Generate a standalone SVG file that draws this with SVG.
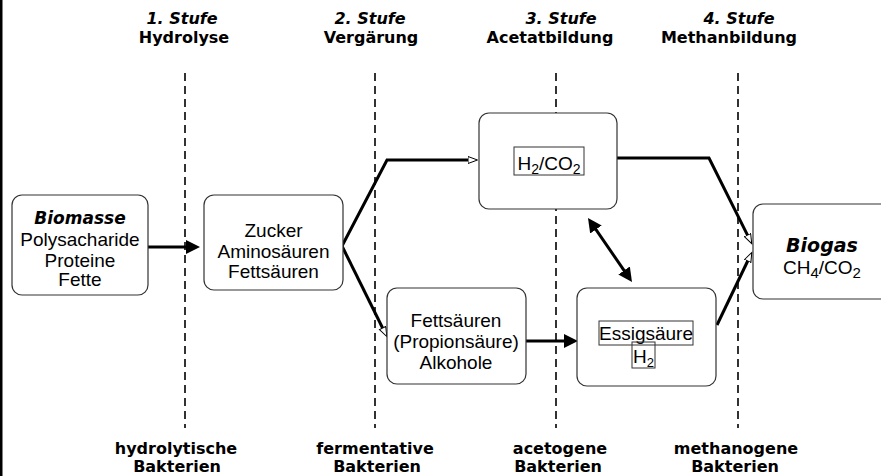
<svg xmlns="http://www.w3.org/2000/svg" width="881" height="476" viewBox="0 0 881 476">
<style>
.hdr{font-family:"DejaVu Sans",Verdana,sans-serif;font-weight:bold;font-size:16px;fill:#000;text-anchor:middle}
.it{font-style:italic}
.txt{font-family:"Liberation Sans",Arial,sans-serif;font-size:19px;fill:#000;text-anchor:middle}
.bi{font-family:"DejaVu Sans",Verdana,sans-serif;font-weight:bold;font-style:italic;fill:#000;text-anchor:middle}
.box{fill:#fff;stroke:#333;stroke-width:1.2}
.lbl{fill:none;stroke:#333;stroke-width:1}
.dash{stroke:#000;stroke-width:1.6;stroke-dasharray:8 5;fill:none}
.con{fill:none;stroke:#000;stroke-width:3}
</style>
<defs>
<marker id="fa" markerUnits="userSpaceOnUse" markerWidth="16" markerHeight="16" refX="2" refY="7" orient="auto-start-reverse">
<path d="M0,0 L14,7 L0,14 z" fill="#000"/>
</marker>
<marker id="oa" markerUnits="userSpaceOnUse" markerWidth="12" markerHeight="10" refX="0.5" refY="4" orient="auto">
<path d="M0.5,0.5 L10,4 L0.5,7.5 z" fill="#fff" stroke="#000" stroke-width="1"/>
</marker>
</defs>
<rect x="0" y="0" width="881" height="476" fill="#fff"/>
<rect x="0" y="0" width="2.5" height="476" fill="#000"/>

<g id="stages">
<line class="dash" x1="185" y1="73" x2="185" y2="428"/>
<line class="dash" x1="375" y1="73" x2="375" y2="428"/>
<line class="dash" x1="556" y1="73" x2="556" y2="428"/>
<line class="dash" x1="738" y1="73" x2="738" y2="428"/>
</g>

<g id="headers">
<text class="hdr it" x="182" y="24">1. Stufe</text>
<text class="hdr" x="184" y="43">Hydrolyse</text>
<text class="hdr it" x="370" y="24">2. Stufe</text>
<text class="hdr" x="371" y="43">Vergärung</text>
<text class="hdr it" x="561" y="24">3. Stufe</text>
<text class="hdr" x="550" y="43">Acetatbildung</text>
<text class="hdr it" x="739" y="24">4. Stufe</text>
<text class="hdr" x="729" y="43">Methanbildung</text>
</g>

<g id="footers">
<text class="hdr" x="176" y="454">hydrolytische</text>
<text class="hdr" x="177" y="472">Bakterien</text>
<text class="hdr" x="375" y="454">fermentative</text>
<text class="hdr" x="377" y="472">Bakterien</text>
<text class="hdr" x="560" y="454">acetogene</text>
<text class="hdr" x="558" y="472">Bakterien</text>
<text class="hdr" x="736" y="454">methanogene</text>
<text class="hdr" x="735" y="472">Bakterien</text>
</g>

<g id="connectors">
<path class="con" d="M148,247 H188" marker-end="url(#fa)"/>
<path class="con" d="M526,341 H566" marker-end="url(#fa)"/>
<path class="con" d="M594.8,227.9 L625.2,272.1" marker-start="url(#fa)" marker-end="url(#fa)"/>
<path class="con" d="M342,246 L387,160 H468" marker-end="url(#oa)"/>
<path class="con" d="M342,246 L382.6,328" marker-end="url(#oa)"/>
<path class="con" d="M617,158 H709 L747.5,235.1" marker-end="url(#oa)"/>
<path class="con" d="M717,325 L747.7,261" marker-end="url(#oa)"/>
</g>

<g id="biomasse">
<rect class="box" x="12" y="195" width="136" height="100" rx="10"/>
<text class="bi" x="80" y="224" font-size="17">Biomasse</text>
<text class="txt" x="80" y="246">Polysacharide</text>
<text class="txt" x="80" y="267">Proteine</text>
<text class="txt" x="80" y="286">Fette</text>
</g>

<g id="zucker">
<rect class="box" x="204" y="195" width="139" height="95" rx="10"/>
<text class="txt" x="273.5" y="237">Zucker</text>
<text class="txt" x="273.5" y="258">Aminosäuren</text>
<text class="txt" x="273.5" y="278">Fettsäuren</text>
</g>

<g id="h2co2">
<rect class="box" x="479" y="113" width="138" height="96" rx="10"/>
<rect class="lbl" x="514" y="147" width="70" height="28"/>
<text class="txt" x="549" y="170" font-size="21">H<tspan font-size="14" dy="4">2</tspan><tspan dy="-4">/CO</tspan><tspan font-size="14" dy="4">2</tspan></text>
</g>

<g id="fettsaeuren">
<rect class="box" x="387" y="288" width="139" height="96" rx="10"/>
<text class="txt" x="456" y="327">Fettsäuren</text>
<text class="txt" x="456" y="348">(Propionsäure)</text>
<text class="txt" x="456" y="369">Alkohole</text>
</g>

<g id="essigsaeure">
<rect class="box" x="577" y="288" width="139" height="98" rx="10"/>
<rect class="lbl" x="599" y="321" width="94" height="24"/>
<text class="txt" x="646" y="340">Essigsäure</text>
<rect class="lbl" x="632" y="342" width="23" height="26" fill="#fff"/>
<text class="txt" x="643.5" y="363" font-size="20">H<tspan font-size="13" dy="4">2</tspan></text>
</g>

<g id="biogas">
<rect class="box" x="753" y="204" width="150" height="95" rx="10"/>
<text class="bi" x="822" y="252" font-size="19">Biogas</text>
<text class="txt" x="822" y="274" font-size="22">CH<tspan font-size="15" dy="4">4</tspan><tspan dy="-4">/CO</tspan><tspan font-size="15" dy="4">2</tspan></text>
</g>
</svg>
